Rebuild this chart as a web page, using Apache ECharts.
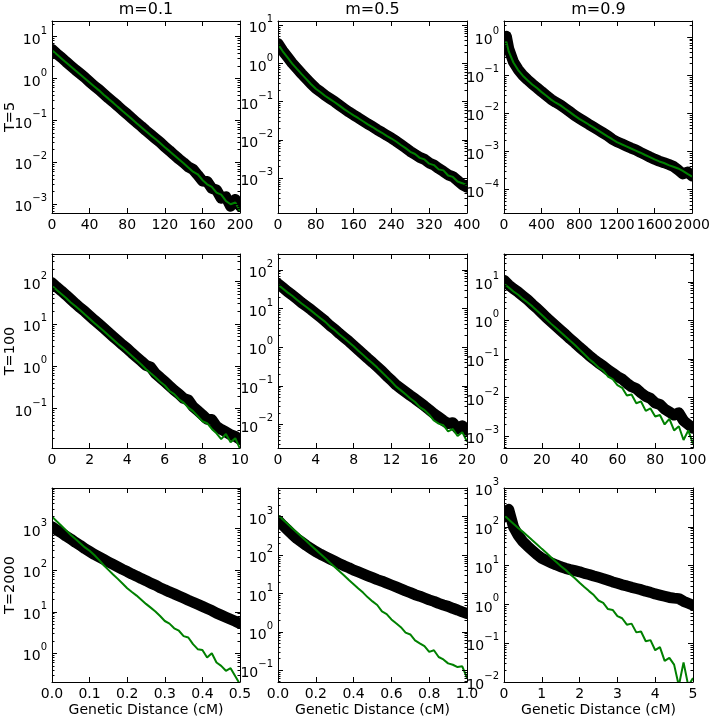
<!DOCTYPE html>
<html><head><meta charset="utf-8">
<script src="https://cdn.jsdelivr.net/npm/echarts@6/dist/echarts.min.js"></script>
<style>html,body{margin:0;padding:0;background:#fff}#c{width:713px;height:718px}</style>
</head><body><div id="c"></div>
<script>
const colTitles = ['m=0.1', 'm=0.5', 'm=0.9'];
const rowTitles = ['T=5', 'T=100', 'T=2000'];
const xName = 'Genetic Distance (cM)';
const xMax = [200, 400, 2000, 10, 20, 100, 0.5, 1, 5];
const xStep = [40, 80, 400, 2, 4, 20, 0.1, 0.2, 1];
const yMin = [6.2e-4, 1.23e-4, 2.45e-5, 0.0117, 0.00245, 4.9e-4, 0.204, 0.049, 0.01];
const yMax = [23.4, 12.9, 2.63, 447, 257, 52.5, 9550, 5620, 1000];

const x1 = [0,5,10,15,20,25,30,35,40,45,50,55,60,65,70,75,80,85,90,95,100,105,110,115,120,125,130,135,140,145,150,155,160,165,170,175,180,185,190,195,200];
const black1 = [4.9,3.9,3.16,2.5,2.0,1.6,1.3,1.05,0.83,0.66,0.54,0.43,0.34,0.275,0.22,0.174,0.141,0.112,0.089,0.072,0.057,0.046,0.037,0.030,0.0235,0.019,0.015,0.012,0.0098,0.0078,0.0068,0.0050,0.0036,0.0035,0.0024,0.0022,0.0014,0.0015,0.0009,0.0013,0.0009];
const green1 = [4.7,3.75,3.0,2.4,1.92,1.54,1.24,1.0,0.80,0.64,0.52,0.41,0.33,0.265,0.21,0.168,0.135,0.108,0.086,0.069,0.055,0.044,0.036,0.029,0.023,0.0185,0.0148,0.0118,0.0095,0.0075,0.0060,0.0052,0.0038,0.0030,0.0026,0.0019,0.0017,0.0012,0.0010,0.0011,0.0007];

const x2 = [0,10,20,30,40,50,60,70,80,90,100,110,120,130,140,150,160,170,180,190,200,210,220,230,240,250,260,270,280,290,300,310,320,330,340,350,360,370,380,390,400];
const black2 = [3.3,2.14,1.48,1.02,0.74,0.54,0.40,0.295,0.224,0.182,0.145,0.120,0.100,0.081,0.066,0.054,0.045,0.038,0.0316,0.0263,0.0224,0.0186,0.0158,0.0132,0.0112,0.0093,0.0076,0.0062,0.0050,0.0042,0.0035,0.0031,0.0025,0.0022,0.0018,0.0015,0.00123,0.0011,0.00087,0.00068,0.00058];
const green2 = [3.2,2.08,1.44,0.99,0.72,0.525,0.39,0.287,0.218,0.177,0.141,0.117,0.097,0.079,0.064,0.053,0.044,0.037,0.0308,0.0256,0.0218,0.0181,0.0154,0.0128,0.0109,0.0091,0.0074,0.0061,0.0049,0.0043,0.0034,0.0031,0.0024,0.0022,0.0017,0.0016,0.00118,0.00108,0.00082,0.00074,0.00066];

const x3 = [0,25,50,100,150,200,250,300,350,400,450,500,550,600,650,700,750,800,850,900,950,1000,1050,1100,1150,1200,1250,1300,1350,1400,1450,1500,1550,1600,1650,1700,1750,1800,1850,1900,1950,2000];
const black3 = [0.68,1.05,0.50,0.224,0.141,0.100,0.076,0.059,0.047,0.037,0.0295,0.0234,0.0195,0.0166,0.0135,0.011,0.0089,0.0074,0.0062,0.0052,0.0044,0.0037,0.0031,0.0026,0.0021,0.0018,0.0016,0.0014,0.00123,0.0011,0.00095,0.00083,0.00072,0.00063,0.00056,0.00051,0.00046,0.00041,0.00033,0.00026,0.00029,0.00023];
const green3 = [0.6,0.75,0.42,0.215,0.136,0.097,0.074,0.057,0.046,0.036,0.0288,0.0229,0.019,0.0162,0.0132,0.0108,0.0087,0.0072,0.0061,0.0051,0.0043,0.0036,0.0030,0.0025,0.0021,0.00176,0.00155,0.00137,0.0012,0.00106,0.00093,0.00081,0.00071,0.00062,0.00055,0.0005,0.00044,0.0004,0.00036,0.00031,0.00026,0.00022];

const x4 = [0,0.25,0.5,0.75,1,1.25,1.5,1.75,2,2.25,2.5,2.75,3,3.25,3.5,3.75,4,4.25,4.5,4.75,5,5.25,5.5,5.75,6,6.25,6.5,6.75,7,7.25,7.5,7.75,8,8.25,8.5,8.75,9,9.25,9.5,9.75,10];
const black4 = [93,74,60,48,38,30,24,19.5,15.5,12.3,9.9,7.9,6.3,5.0,4.0,3.2,2.6,2.05,1.64,1.32,1.05,0.95,0.67,0.54,0.43,0.34,0.27,0.22,0.174,0.16,0.111,0.089,0.071,0.056,0.055,0.038,0.032,0.028,0.024,0.022,0.0186];
const green4 = [79,63,51,41,32,26,21,16.6,13.2,10.5,8.4,6.8,5.4,4.3,3.4,2.75,2.2,1.74,1.38,1.10,0.85,0.68,0.55,0.43,0.35,0.26,0.22,0.166,0.138,0.105,0.087,0.066,0.050,0.045,0.033,0.026,0.019,0.025,0.016,0.020,0.0112];

const x5 = [0,0.5,1,1.5,2,2.5,3,3.5,4,4.5,5,5.5,6,6.5,7,7.5,8,8.5,9,9.5,10,10.5,11,11.5,12,12.5,13,13.5,14,14.5,15,15.5,16,16.5,17,17.5,18,18.5,19,19.5,20];
const black5 = [43.6,34.7,27.5,22.4,17.8,14.1,11.5,9.3,7.4,5.9,4.7,3.6,2.9,2.24,1.78,1.41,1.10,0.85,0.66,0.51,0.40,0.31,0.24,0.18,0.138,0.105,0.085,0.069,0.056,0.046,0.037,0.030,0.024,0.019,0.0155,0.0126,0.0105,0.011,0.0078,0.0092,0.0070];
const green5 = [41.4,33,26.1,21.3,16.9,13.4,10.9,8.8,7.0,5.6,4.5,3.4,2.75,2.13,1.69,1.34,1.05,0.81,0.63,0.485,0.38,0.295,0.224,0.17,0.129,0.095,0.076,0.060,0.047,0.038,0.028,0.0234,0.0178,0.0126,0.0105,0.0095,0.0066,0.0076,0.0050,0.0063,0.0036];

const x6 = [0,2.5,5,7.5,10,12.5,15,17.5,20,22.5,25,27.5,30,32.5,35,37.5,40,42.5,45,47.5,50,52.5,55,57.5,60,62.5,65,67.5,70,72.5,75,77.5,80,82.5,85,87.5,90,92.5,95,97.5,100];
const black6 = [11.0,8.3,6.6,5.4,4.3,3.4,2.6,2.04,1.55,1.17,0.91,0.71,0.55,0.43,0.33,0.26,0.20,0.158,0.123,0.098,0.079,0.065,0.052,0.043,0.035,0.030,0.0234,0.019,0.017,0.0132,0.0107,0.0095,0.0072,0.0066,0.005,0.0042,0.0035,0.004,0.0025,0.002,0.0016];
const green6 = [8.9,7.1,5.6,4.6,3.6,2.9,2.3,1.78,1.38,1.05,0.81,0.63,0.49,0.38,0.295,0.23,0.174,0.132,0.100,0.079,0.060,0.050,0.035,0.030,0.021,0.0178,0.0112,0.012,0.0071,0.0079,0.0045,0.0052,0.0032,0.0035,0.002,0.0028,0.0014,0.0018,0.00079,0.0014,0.00063];

const x7 = [0,0.0125,0.025,0.0375,0.05,0.0625,0.075,0.0875,0.1,0.1125,0.125,0.1375,0.15,0.1625,0.175,0.1875,0.2,0.2125,0.225,0.2375,0.25,0.2625,0.275,0.2875,0.3,0.3125,0.325,0.3375,0.35,0.3625,0.375,0.3875,0.4,0.4125,0.425,0.4375,0.45,0.4625,0.475,0.4875,0.5];
const black7 = [1120,933,794,661,562,468,398,331,282,240,209,182,158,138,120,105,93,81,72,63,56,49,44,38,34,30,27,24,21.4,19,17,15.1,13.5,12,10.7,9.3,8.3,7.4,6.6,5.9,5.2];
const green7 = [1950,1510,1175,912,708,562,447,355,295,232,178,132,102,79,62,48,37,30,24.5,19.5,15.5,12.6,10.2,7.9,6.0,5.2,4.0,3.5,2.6,2.4,1.66,1.26,1.2,0.79,1.0,0.60,0.50,0.38,0.44,0.28,0.18];

const x8 = [0,0.025,0.05,0.075,0.1,0.125,0.15,0.175,0.2,0.225,0.25,0.275,0.3,0.325,0.35,0.375,0.4,0.425,0.45,0.475,0.5,0.525,0.55,0.575,0.6,0.625,0.65,0.675,0.7,0.725,0.75,0.775,0.8,0.825,0.85,0.875,0.9,0.925,0.95,0.975,1.0];
const black8 = [813,603,457,347,269,219,178,148,123,105,91,79,69,60,52.5,46.8,40.7,36.3,32.4,28.8,25.7,22.9,20.9,18.6,16.6,14.8,13.2,11.7,10.5,9.3,8.5,7.6,6.8,6.2,5.5,5.0,4.6,4.1,3.7,3.3,3.0];
const green8 = [1100,850,660,500,390,300,234,178,138,107,83,63,49,38,29.5,22.4,17.4,13.5,10.5,7.9,6.2,5.0,3.4,2.9,2.1,1.66,1.32,0.95,0.85,0.60,0.50,0.42,0.30,0.33,0.22,0.19,0.15,0.138,0.12,0.126,0.063];

const x9 = [0,0.125,0.25,0.375,0.5,0.625,0.75,0.875,1,1.125,1.25,1.375,1.5,1.625,1.75,1.875,2,2.125,2.25,2.375,2.5,2.625,2.75,2.875,3,3.125,3.25,3.375,3.5,3.625,3.75,3.875,4,4.125,4.25,4.375,4.5,4.625,4.75,4.875,5];
const black9 = [178,282,100,60,41.7,31.6,24.5,19.1,15.5,13.5,11.7,10.5,9.3,8.5,7.9,7.4,6.9,6.3,5.9,5.4,5.0,4.6,4.2,3.8,3.5,3.2,3.0,2.75,2.57,2.4,2.19,2.04,1.86,1.74,1.62,1.51,1.45,1.41,1.2,1.07,0.95];
const green9 = [200,155,120,93,74,58,45,35,27,21,16.2,12.6,9.8,7.8,6.0,4.7,3.6,2.8,2.2,1.74,1.26,1.10,0.76,0.72,0.50,0.44,0.30,0.32,0.19,0.20,0.112,0.12,0.066,0.079,0.035,0.042,0.028,0.008,0.032,0.008,0.0126];

const xs = [x1, x2, x3, x4, x5, x6, x7, x8, x9];
const blacks = [black1, black2, black3, black4, black5, black6, black7, black8, black9];
const greens = [green1, green2, green3, green4, green5, green6, green7, green8, green9];

const lefts = [52, 278, 504];
const widths = [188, 189, 189];
const tops = [21, 254, 488];
const heights = [192, 194, 194];
const FONT = 'DejaVu Sans';

function logLabel(v) {
  const e = Math.log10(v);
  const r = Math.round(e);
  if (Math.abs(e - r) > 1e-6) return '';
  return '{b|10}{e|' + String(r).replace('-', '\u2212') + '}';
}
function pairs(x, y) { return x.map((v, i) => [v, y[i]]); }

const grid = [], xAxis = [], yAxis = [], series = [], graphic = [];
for (let i = 0; i < 9; i++) {
  const r = Math.floor(i / 3), c = i % 3;
  const L = lefts[c], T = tops[r], W = widths[c], H = heights[r];
  grid.push({ left: L, top: T, width: W, height: H, show: false });
  const fmt = (i === 6 || i === 7) ? (v => v.toFixed(1)) : (v => String(Math.round(v * 1000) / 1000));
  const axLine = { show: true, onZero: false, lineStyle: { color: '#000', width: 1 } };
  const baseX = {
    gridIndex: i, type: 'value', min: 0, max: xMax[i], interval: xStep[i], z: 10,
    axisLine: axLine, splitLine: { show: false },
    axisTick: { show: true, inside: true, length: 5, lineStyle: { color: '#000' } }
  };
  xAxis.push(Object.assign({}, baseX, {
    position: 'bottom',
    axisLabel: { show: true, color: '#000', fontSize: 14, fontFamily: FONT, margin: 5, formatter: fmt },
    name: r === 2 ? xName : '', nameLocation: 'middle', nameGap: 21,
    nameTextStyle: { color: '#000', fontSize: 14, fontFamily: FONT }
  }));
  xAxis.push(Object.assign({}, baseX, { position: 'top', axisLabel: { show: false } }));
  const baseY = {
    gridIndex: i, type: 'log', logBase: 10, min: yMin[i], max: yMax[i], z: 10,
    axisLine: axLine, splitLine: { show: false }, minorSplitLine: { show: false },
    axisTick: { show: true, inside: true, length: 5, lineStyle: { color: '#000' } },
    minorTick: { show: true, splitNumber: 9, length: 2.5, lineStyle: { color: '#000' } }
  };
  yAxis.push(Object.assign({}, baseY, {
    position: 'left',
    axisLabel: {
      show: true, color: '#000', fontFamily: FONT, margin: 5, formatter: logLabel,
      rich: {
        b: { fontSize: 14, fontFamily: FONT, color: '#000', lineHeight: 21, verticalAlign: 'bottom' },
        e: { fontSize: 10, fontFamily: FONT, color: '#000', lineHeight: 12, verticalAlign: 'top' }
      }
    }
  }));
  yAxis.push(Object.assign({}, baseY, { position: 'right', axisLabel: { show: false } }));
  series.push({
    type: 'line', xAxisIndex: 2 * i, yAxisIndex: 2 * i, data: pairs(xs[i], blacks[i]),
    showSymbol: false, silent: true, clip: true, z: 2,
    lineStyle: { color: '#000', width: 11, cap: 'round', join: 'round' }
  });
  series.push({
    type: 'line', xAxisIndex: 2 * i, yAxisIndex: 2 * i, data: pairs(xs[i], greens[i]),
    showSymbol: false, silent: true, clip: true, z: 3,
    lineStyle: { color: '#008000', width: 2 }
  });
  // white masks just outside each plot frame so lines are clipped at the frame
  const m = 8;
  [[L - m, T - m, m, H + 2 * m], [L + W, T - m, m, H + 2 * m], [L - m, T - m, W + 2 * m, m], [L - m, T + H, W + 2 * m, m]]
    .forEach(s => graphic.push({ type: 'rect', z: 5, silent: true,
      shape: { x: s[0], y: s[1], width: s[2], height: s[3] }, style: { fill: '#fff' } }));
}

for (let c = 0; c < 3; c++) {
  graphic.push({ type: 'text', x: lefts[c] + widths[c] / 2, y: 10, z: 20,
    style: { text: colTitles[c], fill: '#000', font: '16px "DejaVu Sans"', textAlign: 'center', textVerticalAlign: 'middle' } });
}
for (let r = 0; r < 3; r++) {
  graphic.push({ type: 'text', x: 10, y: tops[r] + heights[r] / 2, rotation: Math.PI / 2, z: 20,
    style: { text: rowTitles[r], fill: '#000', font: '14.5px "DejaVu Sans"', textAlign: 'center', textVerticalAlign: 'middle' } });
}

const chart = echarts.init(document.getElementById('c'), null, { renderer: 'canvas' });
chart.setOption({ animation: false, backgroundColor: '#fff', grid, xAxis, yAxis, series, graphic });
</script></body></html>
